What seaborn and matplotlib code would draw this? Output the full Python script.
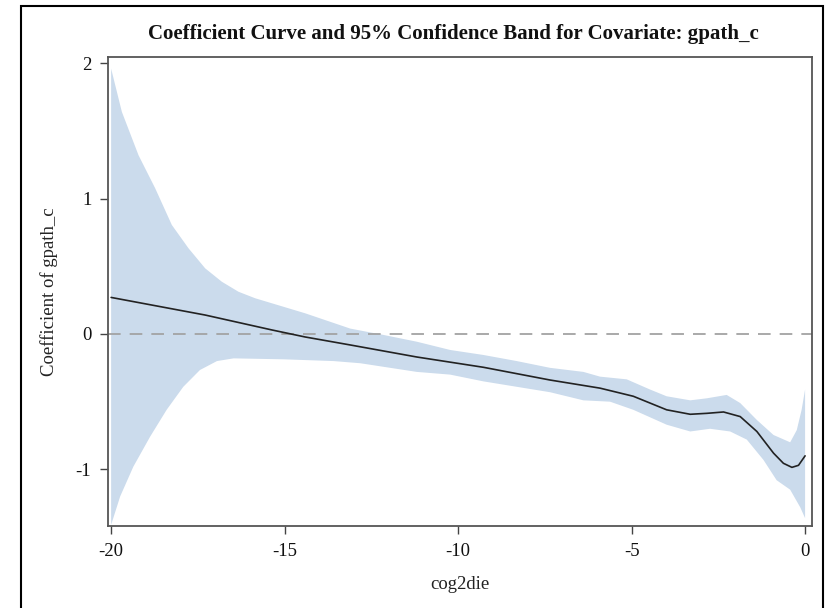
import matplotlib
matplotlib.use("Agg")
import matplotlib.pyplot as plt
import seaborn as sns
import pandas as pd
from matplotlib.patches import Rectangle

# Estimated coefficient curve for gpath_c along cog2die
curve_x = [-20.0, -17.29, -15.37, -14.41, -13.11, -11.19, -9.27, -7.35, -5.91,
           -4.95, -3.99, -3.31, -2.83, -2.35, -1.87, -1.39, -0.91, -0.625,
           -0.38, -0.19, 0.0]
curve_y = [0.27, 0.14, 0.03, -0.022, -0.081, -0.17, -0.246, -0.34, -0.40,
           -0.46, -0.56, -0.593, -0.586, -0.576, -0.61, -0.72, -0.88, -0.955,
           -0.985, -0.97, -0.90]

# Upper limit of the 95% confidence band
upper_x = [-20.0, -19.69, -19.21, -18.73, -18.25, -17.77, -17.29, -16.81, -16.33,
           -15.85, -15.37, -14.41, -13.11, -12.15, -11.19, -10.23, -9.27, -8.31,
           -7.35, -6.39, -5.91, -5.14, -4.47, -3.99, -3.31, -2.83, -2.26, -1.87,
           -1.39, -0.91, -0.43, -0.24, -0.10, 0.0]
upper_y = [1.96, 1.64, 1.32, 1.076, 0.805, 0.633, 0.485, 0.386, 0.312,
           0.264, 0.227, 0.153, 0.04, -0.007, -0.057, -0.118, -0.155, -0.20,
           -0.25, -0.28, -0.315, -0.335, -0.41, -0.46, -0.49, -0.475, -0.45, -0.51,
           -0.635, -0.746, -0.80, -0.71, -0.56, -0.41]

# Lower limit of the 95% confidence band
lower_x = [-20.0, -19.74, -19.36, -18.88, -18.4, -17.92, -17.44, -16.95, -16.47,
           -15.03, -13.59, -12.82, -11.19, -10.23, -9.27, -8.31, -7.35, -6.39,
           -5.62, -4.95, -3.99, -3.31, -2.74, -2.16, -1.68, -1.20, -0.82, -0.43,
           -0.14, 0.0]
lower_y = [-1.41, -1.20, -0.98, -0.76, -0.56, -0.39, -0.266, -0.20, -0.18,
           -0.187, -0.20, -0.216, -0.28, -0.30, -0.35, -0.39, -0.43, -0.49,
           -0.50, -0.56, -0.67, -0.72, -0.70, -0.72, -0.78, -0.93, -1.08, -1.15,
           -1.28, -1.36]

x_ticks = [-20, -15, -10, -5, 0]
y_ticks = [-1, 0, 1, 2]

sns.set_theme(style="white")
plt.rcParams["font.family"] = ["Liberation Serif", "DejaVu Serif"]

fig = plt.figure(figsize=(8.27, 6.08), dpi=100)
ax = fig.add_axes([0.1306, 0.1349, 0.8513, 0.7714])

band_x = upper_x + lower_x[::-1]
band_y = upper_y + lower_y[::-1]
ax.fill(band_x, band_y, color="#cbdbec", linewidth=0, zorder=1)

ax.axhline(0, color="#a3a3a3", linewidth=1.3, dashes=(7, 5), zorder=2)

df = pd.DataFrame({"cog2die": curve_x, "coef": curve_y})
sns.lineplot(data=df, x="cog2die", y="coef", ax=ax, color="#222222",
             linewidth=1.2, zorder=3)

ax.set_xlim(-20.09, 0.2)
ax.set_ylim(-1.418, 2.046)
ax.set_xticks(x_ticks)
ax.set_yticks(y_ticks)
ax.set_xticklabels([str(v) for v in x_ticks])
ax.set_yticklabels([str(v) for v in y_ticks])

ax.tick_params(axis="both", direction="out", length=6, width=1.0,
               color="#444444", labelsize=13.5, labelcolor="#111111", pad=6,
               bottom=True, left=True)
for s in ax.spines.values():
    s.set_color("#555555")
    s.set_linewidth(1.3)

ax.set_xlabel("cog2die", fontsize=13.5, color="#222222", labelpad=12)
ax.set_ylabel("Coefficient of gpath_c", fontsize=13.5, color="#222222", labelpad=13)
ax.set_title("Coefficient Curve and 95% Confidence Band for Covariate: gpath_c",
             fontsize=15, fontweight="bold", color="#111111", pad=13, x=0.49)

# Outer frame around the graph area
fig.patches.append(Rectangle((21 / 827, -0.05), (823 - 21) / 827, 1.05 - 6 / 608,
                             transform=fig.transFigure, fill=False,
                             edgecolor="black", linewidth=1.5))

fig.savefig("out.png", dpi=100)
